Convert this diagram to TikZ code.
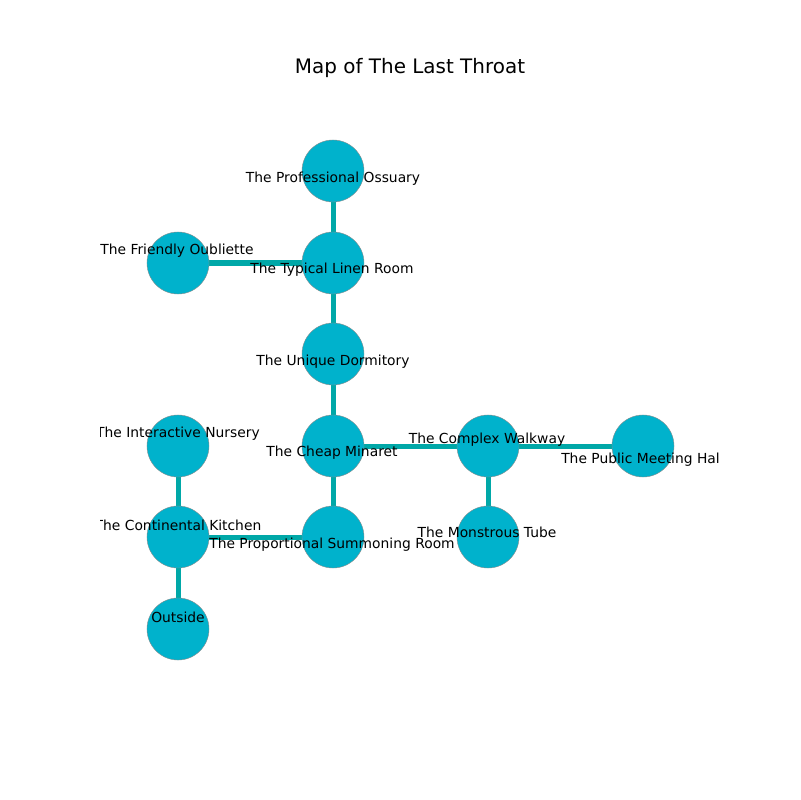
\documentclass[tikz,border=0pt]{standalone}
\usepackage{fontspec}
\setmainfont{DejaVu Sans}
\usetikzlibrary{backgrounds}

\definecolor{roomfill}{RGB}{0,178,204}
\definecolor{passage}{RGB}{0,168,168}

\tikzset{
  room/.style={circle, fill=roomfill, draw=black!45, line width=0.3pt,
    minimum size=0.62in, inner sep=0pt},
  passageway/.style={draw=passage, line width=0.05in},
  roomlabel/.style={inner sep=0pt, font=\fontsize{10}{12}\selectfont}
}

\begin{document}
\begin{tikzpicture}[x=0.01in,y=-0.01in]
  \useasboundingbox (0,0) rectangle (800,800);
  \node[font=\fontsize{14.4}{17}\selectfont] (title) at (410,68) {Map of The Last Throat};

  % rooms
  \node[room] (ossuary) at (333,171) {};
  \node[room] (linen) at (333,263) {};
  \node[room] (oubliette) at (178,263) {};
  \node[room] (dormitory) at (333,354) {};
  \node[room] (minaret) at (333,446) {};
  \node[room] (walkway) at (488,446) {};
  \node[room] (meeting) at (643,446) {};
  \node[room] (nursery) at (178,446) {};
  \node[room] (kitchen) at (178,537) {};
  \node[room] (summoning) at (333,537) {};
  \node[room] (tube) at (488,537) {};
  \node[room] (outside) at (178,629) {};

  % passages
  \begin{pgfonlayer}{background}
    \draw[passageway] (ossuary) -- (linen);
    \draw[passageway] (oubliette) -- (linen);
    \draw[passageway] (linen) -- (dormitory);
    \draw[passageway] (dormitory) -- (minaret);
    \draw[passageway] (minaret) -- (walkway);
    \draw[passageway] (walkway) -- (meeting);
    \draw[passageway] (walkway) -- (tube);
    \draw[passageway] (minaret) -- (summoning);
    \draw[passageway] (summoning) -- (kitchen);
    \draw[passageway] (nursery) -- (kitchen);
    \draw[passageway] (kitchen) -- (outside);
  \end{pgfonlayer}

  % labels
  \begin{scope}
    \clip (100,96) rectangle (720,704);
    \node[roomlabel] (ossuarytext) at (333,179) {The Professional Ossuary};
    \node[roomlabel] (linentext) at (332,270) {The Typical Linen Room};
    \node[roomlabel] (oubliettetext) at (177,251) {The Friendly Oubliette};
    \node[roomlabel] (dormitorytext) at (333,362) {The Unique Dormitory};
    \node[roomlabel] (minarettext) at (332,453) {The Cheap Minaret};
    \node[roomlabel] (walkwaytext) at (487,440) {The Complex Walkway};
    \node[roomlabel, anchor=west] (meetingtext) at (561,460) {The Public Meeting Hal};
    \node[roomlabel] (nurserytext) at (178,434) {The Interactive Nursery};
    \node[roomlabel] (kitchentext) at (178,525) {The Continental Kitchen};
    \node[roomlabel] (summoningtext) at (332,545) {The Proportional Summoning Room};
    \node[roomlabel] (tubetext) at (487,532) {The Monstrous Tube};
    \node[roomlabel] (outsidetext) at (178,617) {Outside};
  \end{scope}
\end{tikzpicture}
\end{document}
